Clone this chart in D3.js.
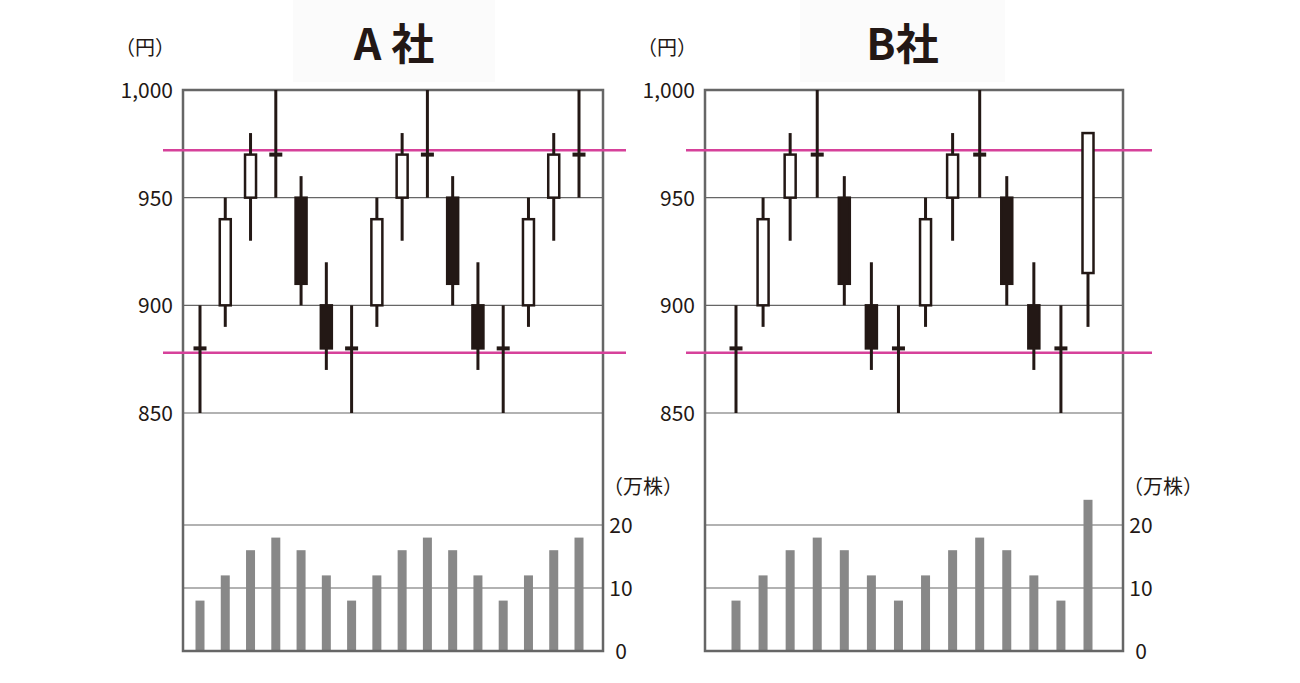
<!DOCTYPE html>
<html>
<head>
<meta charset="utf-8">
<script src="https://cdn.jsdelivr.net/npm/d3@7"></script>
<style>
  body { margin: 0; background: #fff; }
  text { font-family: "Noto Sans CJK JP", "Noto Sans", sans-serif; }
</style>
</head>
<body>
<svg id="chart" width="1300" height="683"></svg>
<script>
// A社 data: [open, high, low, close]
const ohlcA = [
  [880, 900, 850, 880], [900, 950, 890, 940], [950, 980, 930, 970], [970, 1000, 950, 970],
  [950, 960, 900, 910], [900, 920, 870, 880], [880, 900, 850, 880], [900, 950, 890, 940],
  [950, 980, 930, 970], [970, 1000, 950, 970], [950, 960, 900, 910], [900, 920, 870, 880],
  [880, 900, 850, 880], [900, 950, 890, 940], [950, 980, 930, 970], [970, 1000, 950, 970]
]
const volumeA = [8, 12, 16, 18, 16, 12, 8, 12, 16, 18, 16, 12, 8, 12, 16, 18]

// B社 data
const ohlcB = [
  [880, 900, 850, 880], [900, 950, 890, 940], [950, 980, 930, 970], [970, 1000, 950, 970],
  [950, 960, 900, 910], [900, 920, 870, 880], [880, 900, 850, 880], [900, 950, 890, 940],
  [950, 980, 930, 970], [970, 1000, 950, 970], [950, 960, 900, 910], [900, 920, 870, 880],
  [880, 900, 850, 880], [915, 980, 890, 980]
]
const volumeB = [8, 12, 16, 18, 16, 12, 8, 12, 16, 18, 16, 12, 8, 24]

const priceTicks = [1000, 950, 900, 850]
const volumeTicks = [0, 10, 20]
const resistance = 972
const support = 878

const svg = d3.select('#chart')

const y = d3.scaleLinear().domain([850, 1000]).range([413, 90])
const yv = d3.scaleLinear().domain([0, 20]).range([651, 525])

function panel(cfg) {
  const { title, ohlc, volume, frameL, frameR, firstX, lastX, titleBox, pinkL, pinkR } = cfg
  const x = d3.scaleLinear().domain([0, ohlc.length - 1]).range([firstX, lastX])
  const g = svg.append('g')

  // title background + title
  g.append('rect')
    .attr('x', titleBox[0]).attr('y', 0)
    .attr('width', titleBox[1] - titleBox[0]).attr('height', 82)
    .attr('fill', '#fbfbfb')
  g.append('text')
    .attr('x', (titleBox[0] + titleBox[1]) / 2).attr('y', 60)
    .attr('text-anchor', 'middle')
    .style('font-size', '43px').style('font-weight', 700)
    .attr('fill', '#231815')
    .text(title)

  // grid lines
  g.selectAll('.pgrid').data(priceTicks.slice(1)).enter().append('line')
    .attr('x1', frameL).attr('x2', frameR)
    .attr('y1', d => y(d)).attr('y2', d => y(d))
    .style('stroke', '#666').style('stroke-width', 1.2)
  g.selectAll('.vgrid').data(volumeTicks.slice(1)).enter().append('line')
    .attr('x1', frameL).attr('x2', frameR)
    .attr('y1', d => yv(d)).attr('y2', d => yv(d))
    .style('stroke', '#666').style('stroke-width', 1.2)

  // price labels
  g.selectAll('.plab').data(priceTicks).enter().append('text')
    .attr('x', frameL - 10).attr('y', d => y(d) + 8)
    .attr('text-anchor', 'end')
    .style('font-size', '21px').attr('fill', '#231815')
    .text(d => d3.format(',')(d))
  g.append('text')
    .attr('x', frameL - 8).attr('y', 55)
    .attr('text-anchor', 'end')
    .style('font-size', '20px').attr('fill', '#231815')
    .text('（円）')

  // volume labels
  g.selectAll('.vlab').data(volumeTicks).enter().append('text')
    .attr('x', frameR + 18).attr('y', d => yv(d) + 8)
    .attr('text-anchor', 'middle')
    .style('font-size', '21px').attr('fill', '#231815')
    .text(d => d)
  g.append('text')
    .attr('x', frameR + 40).attr('y', 494)
    .attr('text-anchor', 'middle')
    .style('font-size', '20px').attr('fill', '#231815')
    .text('（万株）')

  // volume bars
  g.selectAll('.vbar').data(volume).enter().append('rect')
    .attr('x', (d, i) => x(i) - 4.5).attr('width', 9)
    .attr('y', d => yv(d)).attr('height', d => yv(0) - yv(d))
    .attr('fill', '#888')

  // frame
  g.append('rect')
    .attr('x', frameL).attr('y', 90)
    .attr('width', frameR - frameL).attr('height', 651 - 90)
    .attr('fill', 'none').style('stroke', '#666').style('stroke-width', 2.5)

  // pink lines
  g.selectAll('.pink').data([resistance, support]).enter().append('line')
    .attr('x1', pinkL).attr('x2', pinkR)
    .attr('y1', d => y(d)).attr('y2', d => y(d))
    .style('stroke', '#d6419a').style('stroke-width', 2.5)

  // candles
  const c = g.selectAll('.candle').data(ohlc).enter().append('g')
  c.append('line')
    .attr('x1', (d, i) => x(i)).attr('x2', (d, i) => x(i))
    .attr('y1', d => y(d[1])).attr('y2', d => y(d[2]))
    .style('stroke', '#231815').style('stroke-width', 3)
  c.append('rect')
    .attr('x', (d, i) => x(i) - (d[0] === d[3] ? 6.5 : 5.5))
    .attr('width', d => d[0] === d[3] ? 13 : 11)
    .attr('y', d => d[0] === d[3] ? y(d[0]) - 2 : y(Math.max(d[0], d[3])))
    .attr('height', d => d[0] === d[3] ? 4 : y(Math.min(d[0], d[3])) - y(Math.max(d[0], d[3])))
    .attr('fill', d => d[3] > d[0] ? '#fff' : '#231815')
    .style('stroke', '#231815')
    .style('stroke-width', d => d[0] === d[3] ? 0 : 2.5)
}

panel({
  title: 'A 社', ohlc: ohlcA, volume: volumeA,
  frameL: 183, frameR: 603, firstX: 200, lastX: 579,
  titleBox: [293, 495], pinkL: 163, pinkR: 626
})
panel({
  title: 'B社', ohlc: ohlcB, volume: volumeB,
  frameL: 705, frameR: 1123, firstX: 736, lastX: 1088,
  titleBox: [800, 1005], pinkL: 686, pinkR: 1152
})
</script>
</body>
</html>
